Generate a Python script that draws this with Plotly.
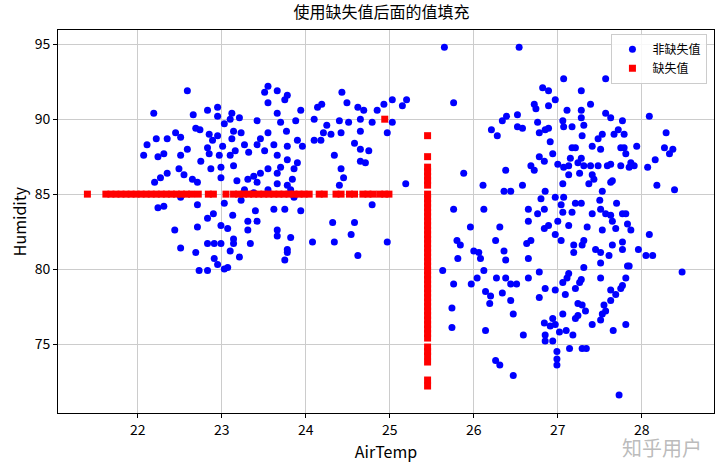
import plotly.graph_objects as go

# Non-missing points (AirTemp, Humidity)
blue_x = [22.59,22.19,22.66,22.83,22.95,22.95,23.12,23.21,23.10,23.03,22.69,22.74,22.45,22.51,22.35,22.22,22.11,22.07,22.24,22.31,
22.51,22.59,22.85,22.95,22.89,23.14,23.23,23.12,23.01,22.83,22.85,22.75,22.97,23.10,23.16,23.27,23.32,23.42,23.46,23.51,
23.55,23.42,23.55,23.51,23.55,23.66,23.78,23.75,23.66,23.70,23.77,23.62,23.66,23.78,23.90,23.96,23.88,23.94,24.10,24.14,
24.19,24.25,24.21,24.10,24.18,24.30,24.42,24.40,24.43,24.49,24.51,24.62,24.69,24.65,24.65,24.58,24.65,24.75,24.65,24.71,
24.85,24.93,25.03,25.03,24.97,24.79,24.34,24.42,24.45,24.40,25.19,24.79,24.97,24.62,24.58,24.54,24.34,24.32,24.08,23.94,
23.75,23.62,23.86,23.82,23.84,23.86,23.90,23.78,23.70,23.66,23.55,23.46,23.38,23.42,23.31,23.18,23.27,23.38,23.55,23.66,
23.78,23.23,23.40,23.31,23.42,23.13,23.03,22.99,23.07,23.14,23.14,23.10,23.21,23.34,23.31,23.66,23.66,23.82,23.78,23.78,
23.75,23.03,23.07,22.83,22.73,22.91,22.95,22.83,22.91,22.99,22.69,22.51,22.44,22.71,22.83,22.90,22.71,22.31,22.24,22.20,
22.27,22.35,22.49,22.55,22.65,22.71,22.51,22.87,22.99,22.99,23.14,25.20,25.15,
25.65,26.54,25.76,27.07,27.57,26.82,26.89,27.28,26.97,26.72,26.74,26.89,27.11,27.28,27.39,27.57,27.63,27.77,28.09,26.52,
26.39,26.34,26.76,27.28,27.06,27.07,27.17,27.31,26.89,26.85,26.52,26.58,26.21,26.28,26.78,27.29,27.53,27.67,27.72,27.79,
28.29,26.91,27.48,27.41,27.17,27.21,27.51,27.75,27.79,27.94,28.27,28.37,28.33,26.94,26.78,26.84,27.15,27.28,27.81,28.16,
26.68,26.72,27.00,27.07,27.13,27.24,27.31,27.39,27.48,27.59,27.63,27.75,27.85,27.91,28.07,27.87,26.38,25.88,27.13,27.26,
27.41,27.43,27.37,27.65,27.63,27.06,26.58,26.11,26.36,26.44,26.85,27.53,28.18,28.39,26.97,27.07,26.80,27.21,27.28,27.50,
27.70,27.04,25.76,26.12,26.65,26.84,27.06,27.17,27.41,27.51,27.57,27.63,27.77,27.81,26.76,26.65,27.00,27.65,27.83,25.96,
26.31,26.89,26.84,27.13,27.35,27.69,27.87,27.53,28.09,26.97,
25.80,25.84,26.26,26.63,26.68,27.04,26.00,26.06,26.08,25.81,26.36,26.38,26.65,27.19,27.19,27.29,27.31,27.45,27.51,27.51,
27.61,27.65,27.77,27.77,27.96,28.05,28.13,27.83,27.85,27.31,28.48,25.63,26.12,26.78,25.76,25.97,26.04,26.27,26.38,26.44,
26.51,26.65,26.14,26.20,26.34,26.19,26.44,25.74,26.47,25.74,26.14,26.59,26.78,26.85,26.97,27.06,27.09,27.13,27.11,27.21,
27.26,27.28,27.51,27.63,27.69,27.75,27.77,27.81,27.63,27.55,27.57,27.53,27.24,27.29,27.33,27.24,27.21,27.06,26.94,26.84,
26.91,26.97,27.02,27.10,27.18,27.41,27.51,27.66,27.81,26.85,26.85,26.94,27.14,27.29,27.34,26.99,26.99,26.99,26.26,26.31,
26.47,27.73]
blue_y = [91.9,90.4,90.3,90.6,90.8,90.2,90.4,90.1,90.0,89.7,89.4,89.3,89.1,88.8,88.7,88.7,88.3,87.6,87.5,87.7,
87.6,88.0,89.0,88.9,88.6,89.2,89.1,88.7,88.2,88.1,87.7,87.2,87.6,87.6,87.9,88.3,87.8,88.3,88.7,87.9,
89.1,89.9,91.1,91.8,92.2,91.9,91.6,91.3,90.4,89.8,89.2,88.3,87.6,88.2,88.6,88.2,89.9,90.6,90.0,90.8,
91.0,89.6,89.1,88.6,88.6,89.0,89.1,89.9,91.8,91.1,89.8,90.8,90.6,90.0,89.2,88.4,88.0,87.9,87.2,87.1,
90.6,91.0,91.3,89.8,89.1,89.8,87.6,86.7,86.1,85.6,85.7,84.3,81.8,80.9,83.1,82.3,81.8,83.1,81.8,83.9,
84.0,84.0,84.8,85.3,86.0,86.7,87.1,87.3,86.8,86.4,86.7,86.4,86.2,85.8,86.0,85.9,85.3,85.1,85.3,85.7,
85.6,84.6,83.9,83.2,83.2,83.6,84.4,82.9,82.7,82.0,81.7,81.2,80.8,81.7,82.6,82.6,82.2,82.1,81.3,81.1,
80.6,80.0,80.1,79.9,79.9,80.7,80.3,81.7,81.7,81.7,81.1,81.4,82.6,82.8,83.4,83.7,84.3,84.2,84.1,85.8,
86.1,86.4,86.7,86.3,86.0,85.8,84.8,86.7,86.8,86.1,86.9,91.3,90.9,
94.8,94.8,91.1,92.7,92.7,92.1,91.9,91.9,91.3,91.0,90.7,90.9,90.6,90.6,91.0,90.4,90.1,89.9,90.2,90.3,
90.2,89.9,89.8,90.1,89.9,89.5,89.5,89.6,89.4,89.3,89.5,89.4,89.3,88.9,89.1,88.9,89.0,89.0,89.3,89.0,
89.1,88.5,88.7,88.2,88.1,88.1,88.0,88.1,88.1,88.2,88.1,88.0,87.7,87.7,87.5,87.2,87.4,87.4,87.7,87.3,
86.9,86.6,87.0,86.8,86.9,87.1,86.9,86.9,86.9,86.9,87.0,86.9,86.8,86.9,86.8,87.1,86.6,86.4,86.3,86.4,
86.3,86.0,85.7,85.9,85.8,85.7,85.6,85.6,85.2,85.2,85.2,85.2,85.6,85.3,84.8,84.8,84.7,84.4,84.4,84.6,
84.4,84.3,84.0,84.0,84.0,84.0,83.8,83.8,83.7,84.0,83.7,83.6,83.7,83.7,83.7,83.2,83.2,83.2,83.0,82.8,
82.8,82.9,82.7,82.9,82.8,82.7,82.6,82.6,82.3,82.3,
81.9,81.6,81.9,81.7,81.9,81.9,81.2,81.1,80.7,80.7,81.2,80.6,80.7,81.1,81.6,81.6,81.9,81.3,81.1,80.4,
80.9,81.6,81.3,81.8,81.3,80.9,80.9,80.2,80.2,80.1,79.8,79.9,79.9,79.8,79.0,79.0,79.4,79.4,79.4,79.0,
79.0,79.4,78.5,78.2,78.4,77.7,77.9,77.4,77.0,76.1,75.9,75.6,78.1,78.7,78.6,79.1,78.3,79.7,79.4,78.7,
79.1,79.3,79.4,78.6,78.3,78.7,78.9,79.4,77.9,77.6,77.2,77.0,77.7,77.6,77.2,76.9,76.7,77.0,76.7,76.4,
76.2,76.3,75.8,75.9,75.6,76.3,76.6,75.9,76.3,75.6,75.2,75.2,74.7,74.7,74.7,74.5,74.0,73.6,73.9,73.6,
72.9,71.6]

# Filled (missing) values
red_h_x = [21.40,21.62,21.68,21.74,21.80,21.86,21.92,21.98,22.04,22.10,22.16,22.22,22.28,22.34,22.40,22.46,22.52,22.58,22.64,22.72,
22.84,22.90,23.05,23.14,23.20,23.26,23.32,23.38,23.44,23.50,23.56,23.62,23.68,23.74,23.80,23.86,23.92,23.98,24.04,
24.16,24.22,24.36,24.42,24.52,24.58,24.68,24.74,24.80,24.88,24.94,24.99]
red_h_y = [85.0] * len(red_h_x)
red_v_y = [88.9,87.5,86.8,86.5,86.2,85.9,85.6,85.0,84.7,84.4,84.1,83.8,83.5,83.2,82.9,82.6,82.3,82.0,81.7,81.4,81.1,80.8,80.5,
80.2,79.9,79.6,79.3,79.0,78.7,78.4,78.1,77.8,77.5,77.2,76.9,76.6,76.3,76.0,75.7,75.4,74.8,74.5,74.2,73.8,72.6,72.2]
red_v_x = [25.45] * len(red_v_y)
red_extra_x = [24.94]
red_extra_y = [90.0]

red_x = red_h_x + red_v_x + red_extra_x
red_y = red_h_y + red_v_y + red_extra_y

font = "Noto Sans CJK SC"
fig = go.Figure()
fig.add_trace(go.Scatter(x=blue_x, y=blue_y, mode="markers", name="非缺失值",
                         marker=dict(color="#0000ff", size=7, symbol="circle", line=dict(width=0))))
fig.add_trace(go.Scatter(x=red_x, y=red_y, mode="markers", name="缺失值",
                         marker=dict(color="#ff0000", size=7, symbol="square", line=dict(width=0))))

axis_common = dict(showgrid=True, gridcolor="#cccccc", gridwidth=1, showline=True, linecolor="black",
                   linewidth=1, mirror=True, ticks="outside", ticklen=4, tickcolor="black",
                   zeroline=False, automargin=False, tickfont=dict(size=14, color="black", family=font))
fig.update_xaxes(range=[21.05, 28.86], tickvals=[22, 23, 24, 25, 26, 27, 28],
                 title=dict(text="AirTemp", font=dict(size=16, color="black", family=font), standoff=2),
                 **axis_common)
fig.update_yaxes(range=[70.4, 95.95], tickvals=[75, 80, 85, 90, 95],
                 title=dict(text="Humidity", font=dict(size=16, color="black", family=font), standoff=4),
                 **axis_common)
fig.update_layout(
    width=720, height=468, plot_bgcolor="white", paper_bgcolor="white",
    margin=dict(l=58, r=6, t=30, b=55, autoexpand=False),
    title=dict(text="使用缺失值后面的值填充", x=0.53, xanchor="center", y=0.985, yanchor="top",
               font=dict(size=16, color="black", family=font)),
    legend=dict(x=0.99, y=0.99, xanchor="right", yanchor="top", bgcolor="rgba(255,255,255,0.85)",
                bordercolor="#cccccc", borderwidth=1, itemwidth=30,
                font=dict(size=12, family=font, color="black")),
    showlegend=True,
)
fig.add_annotation(text="知乎用户", xref="paper", yref="paper", x=0.985, y=-0.09, xanchor="right",
                   yanchor="middle", showarrow=False, font=dict(size=20, color="rgba(170,170,170,0.8)", family=font))
fig.write_html("out.html", config={"displayModeBar": False})

with open("out.html", encoding="utf-8") as f:
    html = f.read()
html = html.replace("<body>", "<body style=\"margin:0;padding:0\">", 1)
with open("out.html", "w", encoding="utf-8") as f:
    f.write(html)
